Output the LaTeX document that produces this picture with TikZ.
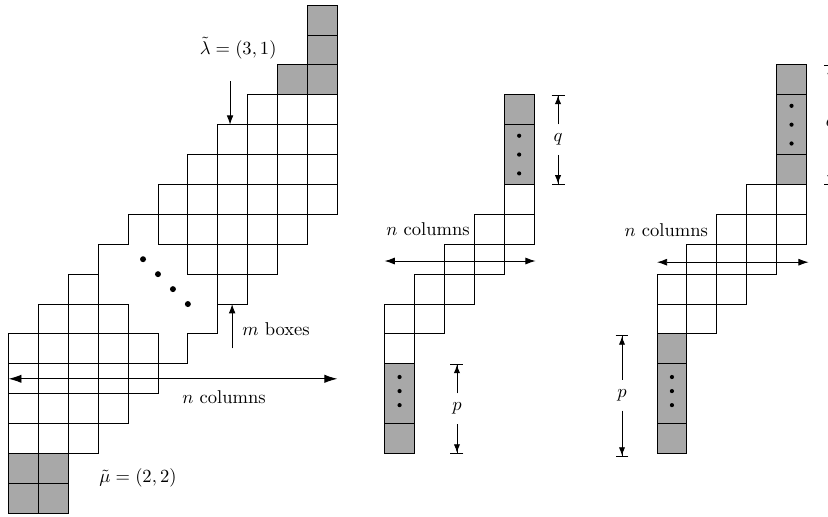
\documentclass[tikz,border=0pt]{standalone}
\usepackage{amsmath,amssymb}
\usetikzlibrary{arrows.meta,positioning,calc}
\definecolor{TabGray}{gray}{0.66}

\begin{document}
\begin{tikzpicture}[x=0.567cm,y=0.567cm,
  cell/.style={draw=black,line width=0.5pt},
  shaded/.style={fill=TabGray},
  arrow/.style={-{Latex[length=5pt,width=3.6pt]},line width=0.5pt},
  bigarrow/.style={{Latex[length=7pt,width=4.5pt]}-{Latex[length=7pt,width=4.5pt]},line width=0.5pt},
  dblarrow/.style={{Latex[length=5.5pt,width=3.8pt]}-{Latex[length=5.5pt,width=3.8pt]},line width=0.5pt},
  dimarrow/.style={-{Latex[length=4.5pt,width=3.4pt]Bar[width=7pt]},line width=0.5pt},
  dimlab/.style={inner sep=0pt,minimum height=0.567cm}]
  \useasboundingbox (-0.284,-0.09) rectangle (27.41,17.17);

  % skew shape with the omitted middle
  \fill[shaded] (10,14) rectangle (11,17);
  \fill[shaded] (9,14) rectangle (10,15);
  \fill[shaded] (0,0) rectangle (2,2);
  \foreach \y/\a/\b in {16/10/10,15/10/10,14/9/10,13/8/10,12/7/10,11/6/10,10/5/10,9/5/9,8/6/8,7/7/7,
                        7/2/2,6/1/3,5/0/4,4/0/4,3/0/3,2/0/2,1/0/1,0/0/1}
    \foreach \x in {\a,...,\b}
      \draw[cell] (\x,\y) rectangle ++(1,1);
  \draw[cell] (10,17) -- (11,17) -- (11,10) -- (10,10) -- (10,9) -- (9,9) -- (9,8) -- (8,8) -- (8,7)
    -- (7,7) -- (7,6) -- (6,6) -- (6,5) -- (5,5) -- (5,4) -- (4,4) -- (4,3) -- (3,3) -- (3,2) -- (2,2)
    -- (2,0) -- (0,0) -- (0,6) -- (1,6) -- (1,7) -- (2,7) -- (2,8) -- (3,8) -- (3,9) -- (4,9) -- (4,10)
    -- (5,10) -- (5,11) -- (6,11) -- (6,12) -- (7,12) -- (7,13) -- (8,13) -- (8,14) -- (9,14) -- (9,15)
    -- (10,15) -- cycle;
  \foreach \p in {(4.5,8.5),(5,8),(5.5,7.5),(6,7)}
    \fill \p circle (0.1);

  \node (lamlab) at (7.68,15.56) {$\tilde{\lambda}=(3,1)$};
  \coordinate (lamtail) at (7.41,14.46);
  \coordinate (lamhead) at (7.41,13);
  \draw[arrow] (lamtail) -- (lamhead);
  \node (mlab) at (8.95,6.17) {$m$ boxes};
  \coordinate (mtail) at (7.48,5.52);
  \coordinate (mhead) at (7.48,7);
  \draw[arrow] (mtail) -- (mhead);
  \coordinate (ncolL) at (0,4.5);
  \coordinate (ncolR) at (11,4.5);
  \draw[bigarrow] (ncolL) -- (ncolR);
  \node (nlab) at (7.21,3.89) {$n$ columns};
  \node (mulab) at (4.33,1.18) {$\tilde{\mu}=(2,2)$};

  % middle strip
  \begin{scope}[shift={(12.58,0)}]
    \foreach \x/\y/\h in {0/2/1,0/3/2,4/11/2,4/13/1}
      \draw[cell,shaded] (\x,\y) rectangle ++(1,\h);
    \foreach \x/\y in {0/5,0/6,1/6,1/7,2/7,2/8,3/8,3/9,4/9,4/10}
      \draw[cell] (\x,\y) rectangle ++(1,1);
    \foreach \y in {12.63,12,11.37} \fill (4.5,\y) circle (0.07);
    \foreach \y in {4.56,4.09,3.62} \fill (0.5,\y) circle (0.07);
    \node[dimlab] (mq) at (5.8,12.5) {$q$};
    \coordinate (mqtop) at (5.8,14);
    \coordinate (mqbot) at (5.8,11);
    \draw[dimarrow] (mq) -- (mqtop);
    \draw[dimarrow] (mq) -- (mqbot);
    \node[dimlab] (mp) at (2.42,3.5) {$p$};
    \coordinate (mptop) at (2.42,5);
    \coordinate (mpbot) at (2.42,2);
    \draw[dimarrow] (mp) -- (mptop);
    \draw[dimarrow] (mp) -- (mpbot);
    \coordinate (mnl) at (0,8.44);
    \coordinate (mnr) at (5.05,8.44);
    \draw[dblarrow] (mnl) -- (mnr);
    \node (mnlab) at (1.45,9.51) {$n$ columns};
  \end{scope}

  % right strip
  \begin{scope}[shift={(21.69,0)}]
    \foreach \x/\y/\h in {0/2/1,0/3/2,0/5/1,4/11/1,4/12/2,4/14/1}
      \draw[cell,shaded] (\x,\y) rectangle ++(1,\h);
    \foreach \x/\y in {0/6,0/7,1/6,1/7,1/8,2/7,2/8,2/9,3/8,3/9,3/10,4/9,4/10}
      \draw[cell] (\x,\y) rectangle ++(1,1);
    \foreach \y in {13.63,13,12.37} \fill (4.5,\y) circle (0.07);
    \foreach \y in {4.56,4.09,3.62} \fill (0.5,\y) circle (0.07);
    \node[dimlab] (rq) at (5.8,13) {$q$};
    \coordinate (rqtop) at (5.8,15);
    \coordinate (rqbot) at (5.8,11);
    \draw[dimarrow] (rq) -- (rqtop);
    \draw[dimarrow] (rq) -- (rqbot);
    \node[dimlab] (rp) at (-1.17,3.95) {$p$};
    \coordinate (rptop) at (-1.17,5.95);
    \coordinate (rpbot) at (-1.17,1.9);
    \draw[dimarrow] (rp) -- (rptop);
    \draw[dimarrow] (rp) -- (rpbot);
    \coordinate (rnl) at (0,8.4);
    \coordinate (rnr) at (5.07,8.4);
    \draw[dblarrow] (rnl) -- (rnr);
    \node (rnlab) at (0.31,9.47) {$n$ columns};
  \end{scope}
\end{tikzpicture}
\end{document}
